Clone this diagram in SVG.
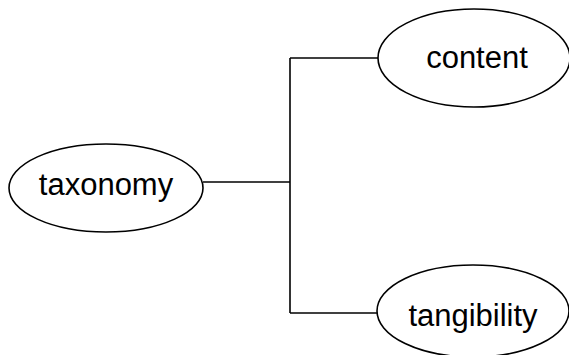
<svg xmlns="http://www.w3.org/2000/svg" width="569" height="355" viewBox="0 0 569 355">
<style>
.node ellipse{fill:#fff;stroke:#000;stroke-width:1.6}
.node text{font-family:"Liberation Sans",Arial,sans-serif;font-size:31px;fill:#000;text-anchor:middle}
.conn{fill:none;stroke:#000;stroke-width:1.6}
</style>
<rect width="569" height="355" fill="#fff"/>
<g id="connectors">
<path class="conn" d="M203 182 H290"/>
<path class="conn" d="M290 58 V313"/>
<path class="conn" d="M290 58 H378"/>
<path class="conn" d="M290 313 H377"/>
</g>
<g id="taxonomy" class="node">
<ellipse cx="106" cy="188" rx="97" ry="44"/>
<text x="106" y="195">taxonomy</text>
</g>
<g id="content" class="node">
<ellipse cx="474" cy="58" rx="96" ry="49"/>
<text x="477" y="68">content</text>
</g>
<g id="tangibility" class="node">
<ellipse cx="473" cy="311" rx="96" ry="46"/>
<text x="473" y="326">tangibility</text>
</g>
</svg>
